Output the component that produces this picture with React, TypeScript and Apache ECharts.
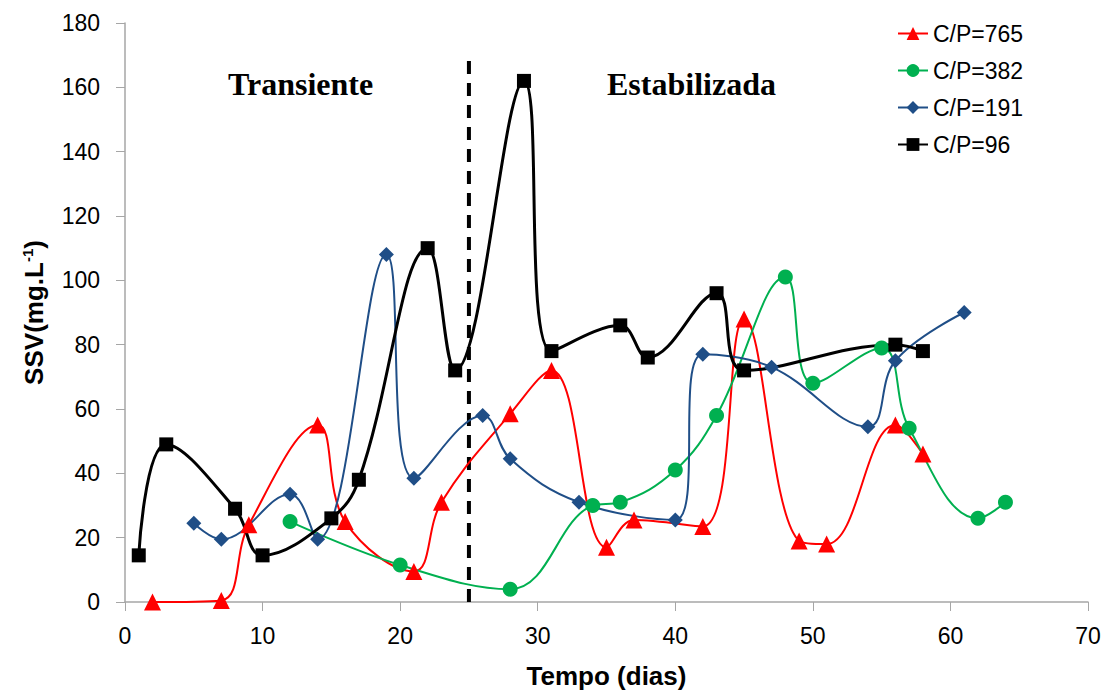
import React, { useEffect, useRef } from "react";
import * as echarts from "echarts";

const seriesNames = ["C/P=765", "C/P=382", "C/P=191", "C/P=96"];

const cp765: [number, number][] = [
  [2, 0], [7, 0.5], [9, 24], [14, 55], [16, 25], [21, 9.5], [23, 31], [28, 58.5],
  [31, 72], [35, 17], [37, 25.5], [42, 23.5], [45, 88], [49, 19], [51, 18], [56, 55], [58, 46],
];
const cp382: [number, number][] = [
  [12, 25], [20, 11.5], [28, 4], [34, 30], [36, 31], [40, 41], [43, 58], [48, 101],
  [50, 68], [55, 79], [57, 54], [62, 26], [64, 31],
];
const cp191: [number, number][] = [
  [5, 24.5], [7, 19.5], [12, 33.5], [14, 19.5], [19, 108], [21, 38.5], [26, 58], [28, 44.5],
  [33, 31], [40, 25.5], [42, 77], [47, 73], [54, 54.5], [56, 75], [61, 90],
];
const cp96: [number, number][] = [
  [1, 14.5], [3, 49], [8, 29], [10, 14.5], [15, 26], [17, 38], [22, 110], [24, 72],
  [29, 162], [31, 78], [36, 86], [38, 76], [43, 96], [45, 72], [56, 80], [58, 78],
];
const phaseDivider: [number, number][] = [[25, 0], [25, 169]];
const phaseLabels = ["Transiente", "Estabilizada"];

export default function App() {
  const ref = useRef<HTMLDivElement>(null);
  useEffect(() => {
    if (!ref.current) return;
    const chart = echarts.init(ref.current, null, { renderer: "svg" });
    const font = "'Liberation Sans', Arial, sans-serif";
    const mk = (name: string, data: [number, number][], color: string, symbol: string, size: number, width: number) => ({
      name,
      type: "line",
      data,
      smooth: 0.4,
      symbol,
      symbolSize: size,
      itemStyle: { color },
      lineStyle: { color, width },
      z: 3,
    });
    chart.setOption({
      animation: false,
      backgroundColor: "#fff",
      grid: { left: 125, right: 19, top: 23, bottom: 88, containLabel: false, outerBoundsMode: "none" },
      legend: {
        data: seriesNames,
        orient: "vertical",
        left: 892,
        top: 17,
        itemWidth: 30,
        itemHeight: 16,
        itemGap: 14,
        textStyle: { fontFamily: font, fontSize: 23, color: "#000" },
      },
      xAxis: {
        type: "value",
        min: 0,
        max: 70,
        interval: 10,
        name: "Tempo (dias)",
        nameLocation: "middle",
        nameGap: 61,
        nameTextStyle: { fontFamily: font, fontSize: 26, fontWeight: "bold", color: "#000" },
        axisLine: { lineStyle: { color: "#a6a6a6", width: 1.5 } },
        axisTick: { show: true, length: 9, lineStyle: { color: "#a6a6a6" } },
        axisLabel: { fontFamily: font, fontSize: 23, color: "#000", margin: 22 },
        splitLine: { show: false },
      },
      yAxis: {
        type: "value",
        min: 0,
        max: 180,
        interval: 20,
        name: "{a|SSV(mg.L}{b|-1}{a|)}",
        nameLocation: "middle",
        nameGap: 78,
        nameRotate: 90,
        nameTextStyle: {
          rich: {
            a: { fontFamily: font, fontSize: 26, fontWeight: "bold", color: "#000" },
            b: { fontFamily: font, fontSize: 15, fontWeight: "bold", color: "#000", verticalAlign: "top", padding: [0, 0, 12, 0] },
          },
        },
        axisLine: { show: true, lineStyle: { color: "#a6a6a6", width: 1.5 } },
        axisTick: { show: true, length: 9, lineStyle: { color: "#a6a6a6" } },
        axisLabel: { fontFamily: font, fontSize: 23, color: "#000", margin: 25 },
        splitLine: { show: false },
      },
      graphic: [
        {
          type: "text",
          left: 228,
          top: 68,
          style: { text: phaseLabels[0], font: "bold 32px 'Liberation Serif', 'Times New Roman', serif", fill: "#000" },
        },
        {
          type: "text",
          left: 607,
          top: 68,
          style: { text: phaseLabels[1], font: "bold 32px 'Liberation Serif', 'Times New Roman', serif", fill: "#000" },
        },
      ],
      series: [
        mk(seriesNames[0], cp765, "#ff0000", "triangle", 17, 2),
        mk(seriesNames[1], cp382, "#00b050", "circle", 15, 2),
        mk(seriesNames[2], cp191, "#1f4e87", "diamond", 15, 2),
        mk(seriesNames[3], cp96, "#000000", "rect", 14, 3),
        {
          name: "divider",
          type: "line",
          data: phaseDivider,
          symbol: "none",
          silent: true,
          lineStyle: { color: "#000", width: 4, type: [13, 9] },
          z: 2,
        },
      ],
    });
    return () => chart.dispose();
  }, []);
  return <div ref={ref} style={{ position: "fixed", left: 0, top: 0, width: 1107, height: 690 }} />;
}
